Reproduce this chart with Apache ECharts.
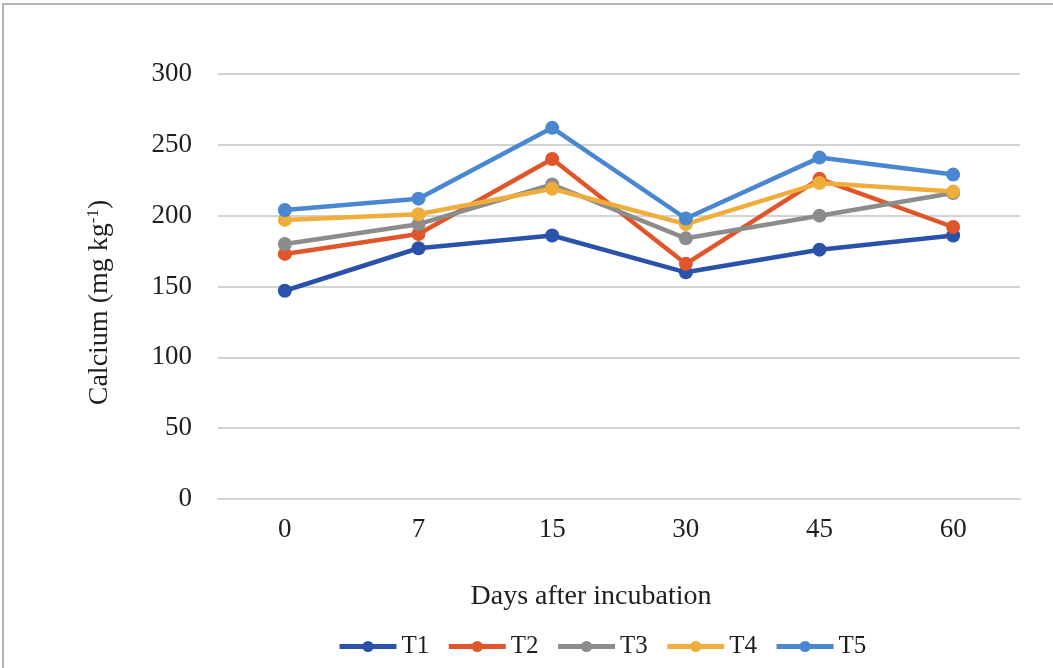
<!DOCTYPE html>
<html>
<head>
<meta charset="utf-8">
<script src="https://cdn.jsdelivr.net/npm/echarts@6/dist/echarts.min.js"></script>
<style>
html,body{margin:0;padding:0;background:#fff;}
#c{width:1053px;height:668px;}
</style>
</head>
<body>
<div id="c"></div>
<script>
const categories = ['0', '7', '15', '30', '45', '60'];
const T1 = [147, 177, 186, 160, 176, 186];
const T2 = [173, 187, 240, 166, 226, 192];
const T3 = [180, 194, 222, 184, 200, 216];
const T4 = [197, 201, 219, 194, 223, 217];
const T5 = [204, 212, 262, 198, 241, 229];
const seriesNames = ['T1', 'T2', 'T3', 'T4', 'T5'];
const seriesData = [T1, T2, T3, T4, T5];
const colors = ['#2a52aa', '#e0562a', '#8c8c8c', '#efad3c', '#4a87d2'];

const font = '"Liberation Serif", "Times New Roman", serif';
const txt = '#1e1e1e';
const chart = echarts.init(document.getElementById('c'), null, {renderer: 'canvas'});
chart.setOption({
  backgroundColor: '#fff',
  animation: false,
  textStyle: {fontFamily: font},
  graphic: [{
    type: 'rect',
    shape: {x: 3, y: 4, width: 1080, height: 700},
    style: {fill: 'none', stroke: '#9a9a9a', lineWidth: 1.5},
    silent: true
  }],
  grid: {left: 218, right: 33, top: 74, bottom: 169},
  legend: {
    bottom: 4,
    left: 332,
    itemWidth: 57,
    itemHeight: 14,
    itemGap: 17,
    lineStyle: {width: 5},
    textStyle: {fontFamily: font, fontSize: 25, color: txt},
    data: seriesNames
  },
  xAxis: {
    type: 'category',
    data: categories,
    boundaryGap: true,
    axisLine: {show: true, lineStyle: {color: '#d2d2d2', width: 2}},
    axisTick: {show: false},
    axisLabel: {fontFamily: font, fontSize: 27, color: txt, margin: 17},
    name: 'Days after incubation',
    nameLocation: 'middle',
    nameGap: 84,
    nameTextStyle: {fontFamily: font, fontSize: 28, color: txt, padding: [0, 56, 0, 0]}
  },
  yAxis: {
    type: 'value',
    min: 0, max: 300, interval: 50,
    axisLine: {show: false},
    axisTick: {show: false},
    splitLine: {lineStyle: {color: '#d2d2d2', width: 2}},
    axisLabel: {fontFamily: font, fontSize: 27, color: txt, margin: 26},
    name: '{a|Calcium (mg kg}{s|-1}{a|)}',
    nameLocation: 'middle',
    nameGap: 104,
    nameRotate: 90,
    nameTextStyle: {
      fontFamily: font, color: txt,
      padding: [0, 32, 0, 0],
      rich: {
        a: {fontFamily: font, fontSize: 28, color: txt},
        s: {fontFamily: font, fontSize: 17, color: txt, verticalAlign: 'top', padding: [0, 0, 12, 0]}
      }
    }
  },
  series: seriesNames.map((n, i) => ({
    name: n,
    type: 'line',
    data: seriesData[i],
    color: colors[i],
    symbol: 'circle',
    symbolSize: 14,
    lineStyle: {width: 4.5, color: colors[i]},
    itemStyle: {color: colors[i]}
  }))
});
</script>
</body>
</html>
